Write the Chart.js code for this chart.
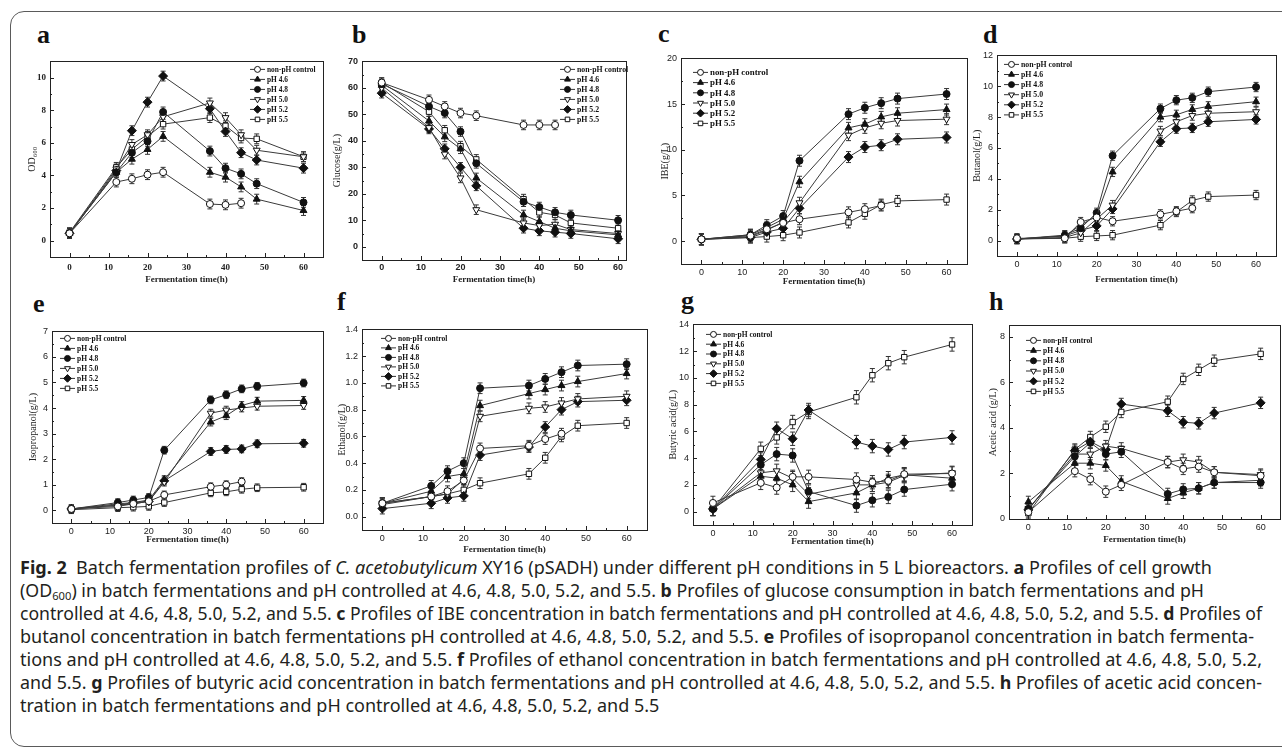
<!DOCTYPE html>
<html>
<head>
<meta charset="utf-8">
<script src="https://cdn.jsdelivr.net/npm/chart.js@4.4.0/dist/chart.umd.min.js"></script>
<style>
body { margin: 0; background: #fff; }
#fig { position: relative; width: 1282px; height: 753px; overflow: hidden; background: #fff; }
#frame { position: absolute; left: 10px; top: 11px; width: 1300px; height: 736px; border: 1.5px solid #5a5a5a; border-radius: 14px; box-sizing: border-box; }
canvas { position: absolute; }
.lbl { position: absolute; font: bold 26px "Liberation Serif", serif; line-height: 26px; color: #111; }
#caption { position: absolute; left: 20px; top: 556px; font-family: "Noto Sans", sans-serif; font-size: 17.5px; color: #231f20; }
#caption div { white-space: nowrap; height: 23px; line-height: 23px; }
#caption span.ln { display: inline-block; transform-origin: 0 50%; }
</style>
</head>
<body>
<div id="fig">
  <div id="frame"></div>
  <div class="lbl" style="left:37px;top:22px">a</div>
  <div class="lbl" style="left:352px;top:22px">b</div>
  <div class="lbl" style="left:658px;top:21px">c</div>
  <div class="lbl" style="left:983px;top:22px">d</div>
  <div class="lbl" style="left:33px;top:291px">e</div>
  <div class="lbl" style="left:337px;top:289px">f</div>
  <div class="lbl" style="left:681px;top:288px">g</div>
  <div class="lbl" style="left:989px;top:289px">h</div>
  <div id="caption">
    <div><span class="ln" data-w="1192"><b>Fig. 2</b>&nbsp; Batch fermentation profiles of <i>C. acetobutylicum</i> XY16 (pSADH) under different pH conditions in 5 L bioreactors. <b>a</b> Profiles of cell growth</span></div>
    <div><span class="ln" data-w="1184">(OD<sub style="font-size:11px;vertical-align:-3px">600</sub>) in batch fermentations and pH controlled at 4.6, 4.8, 5.0, 5.2, and 5.5. <b>b</b> Profiles of glucose consumption in batch fermentations and pH</span></div>
    <div><span class="ln" data-w="1242">controlled at 4.6, 4.8, 5.0, 5.2, and 5.5. <b>c</b> Profiles of IBE concentration in batch fermentations and pH controlled at 4.6, 4.8, 5.0, 5.2, and 5.5. <b>d</b> Profiles of</span></div>
    <div><span class="ln" data-w="1234">butanol concentration in batch fermentations pH controlled at 4.6, 4.8, 5.0, 5.2, and 5.5. <b>e</b> Profiles of isopropanol concentration in batch fermenta-</span></div>
    <div><span class="ln" data-w="1242">tions and pH controlled at 4.6, 4.8, 5.0, 5.2, and 5.5. <b>f</b> Profiles of ethanol concentration in batch fermentations and pH controlled at 4.6, 4.8, 5.0, 5.2,</span></div>
    <div><span class="ln" data-w="1242">and 5.5. <b>g</b> Profiles of butyric acid concentration in batch fermentations and pH controlled at 4.6, 4.8, 5.0, 5.2, and 5.5. <b>h</b> Profiles of acetic acid concen-</span></div>
    <div><span class="ln">tration in batch fermentations and pH controlled at 4.6, 4.8, 5.0, 5.2, and 5.5</span></div>
  </div>
</div>
<script>
// sampling times (h), same for every panel
const times = [0, 12, 16, 20, 24, 36, 40, 44, 48, 60];
const seriesNames = ['non-pH control', 'pH 4.6', 'pH 4.8', 'pH 5.0', 'pH 5.2', 'pH 5.5'];
const xTicks = [0, 10, 20, 30, 40, 50, 60];

// a - OD600
const odCtrl = [0.45, 3.6, 3.8, 4.05, 4.2, 2.25, 2.2, 2.3];
const od46 = [0.45, 4.2, 5.0, 5.6, 6.4, 4.2, 3.9, 3.3, 2.55, 1.85];
const od48 = [0.45, 4.2, 5.4, 6.1, 7.9, 5.5, 4.45, 4.1, 3.5, 2.35];
const od50 = [0.45, 4.4, 5.9, 6.5, 7.6, 8.45, 7.55, 6.5, 5.55, 5.15];
const od52 = [0.45, 4.3, 6.75, 8.5, 10.1, 8.1, 6.7, 5.4, 4.95, 4.45];
const od55 = [0.5, 4.5, 5.6, 6.4, 7.15, 7.55, 7.05, 6.3, 6.25, 5.15];
const odTicks = [0, 2, 4, 6, 8, 10];

// b - glucose
const gluCtrl = [62, 55.5, 53, 50.5, 49.5, 46, 46, 46];
const glu46 = [61, 47.5, 41.5, 37, 26, 12, 9.5, 7, 6, 4.5];
const glu48 = [61.5, 53, 50.5, 43.5, 31.5, 17, 15, 13, 12, 10];
const glu50 = [60, 45, 35, 26, 14, 9, 8, 8.5, 6.5, 5];
const glu52 = [58, 44.5, 37, 30, 23, 7, 6, 5.5, 5, 3];
const glu55 = [62, 51, 44, 38, 33, 18, 13, 12, 9, 7];
const gluTicks = [0, 10, 20, 30, 40, 50, 60, 70];

// c - IBE
const ibeCtrl = [0.2, 0.6, 1.3, 2.0, 2.4, 3.15, 3.5, 3.9];
const ibe46 = [0.2, 0.7, 1.5, 2.4, 6.5, 12.4, 12.8, 13.6, 14.0, 14.4];
const ibe48 = [0.2, 0.7, 1.75, 2.75, 8.8, 13.9, 14.6, 15.1, 15.6, 16.1];
const ibe50 = [0.2, 0.5, 1.2, 2.1, 4.2, 11.6, 12.4, 12.9, 13.2, 13.35];
const ibe52 = [0.2, 0.4, 1.0, 1.4, 3.6, 9.2, 10.3, 10.5, 11.15, 11.35];
const ibe55 = [0.2, 0.4, 0.5, 0.65, 0.95, 2.05, 3.0, 4.0, 4.4, 4.55];
const ibeTicks = [0, 5, 10, 15, 20];

// d - butanol
const butCtrl = [0.15, 0.15, 1.2, 1.5, 1.25, 1.7, 1.9, 2.1];
const but46 = [0.1, 0.3, 1.0, 1.6, 4.45, 8.0, 8.15, 8.5, 8.7, 9.0];
const but48 = [0.1, 0.35, 0.8, 1.8, 5.5, 8.55, 9.1, 9.25, 9.65, 9.95];
const but50 = [0.1, 0.2, 0.5, 1.4, 2.3, 7.1, 7.7, 8.1, 8.25, 8.35];
const but52 = [0.1, 0.3, 0.65, 0.95, 2.05, 6.4, 7.25, 7.3, 7.7, 7.85];
const but55 = [0.1, 0.15, 0.25, 0.3, 0.35, 1.0, 1.85, 2.6, 2.85, 2.95];
const butTicks = [0, 2, 4, 6, 8, 10, 12];

// e - isopropanol
const isoCtrl = [0.05, 0.15, 0.25, 0.35, 0.6, 0.92, 1.0, 1.12];
const iso46 = [0.05, 0.25, 0.3, 0.4, 1.2, 3.45, 3.7, 4.1, 4.27, 4.3];
const iso48 = [0.05, 0.3, 0.4, 0.5, 2.35, 4.32, 4.52, 4.75, 4.85, 4.98];
const iso50 = [0.05, 0.2, 0.25, 0.35, 1.1, 3.8, 3.92, 4.0, 4.07, 4.1];
const iso52 = [0.05, 0.2, 0.3, 0.35, 1.15, 2.3, 2.38, 2.4, 2.6, 2.62];
const iso55 = [0.02, 0.1, 0.12, 0.15, 0.3, 0.68, 0.72, 0.82, 0.88, 0.9];
const isoTicks = [0, 1, 2, 3, 4, 5, 6, 7];

// f - ethanol
const ethCtrl = [0.1, 0.15, 0.19, 0.27, 0.51, 0.53, 0.58, 0.62];
const eth46 = [0.1, 0.19, 0.3, 0.32, 0.83, 0.92, 0.95, 0.98, 1.01, 1.07];
const eth48 = [0.1, 0.23, 0.34, 0.4, 0.96, 0.98, 1.03, 1.08, 1.13, 1.14];
const eth50 = [0.1, 0.15, 0.17, 0.28, 0.75, 0.81, 0.82, 0.85, 0.88, 0.9];
const eth52 = [0.06, 0.1, 0.14, 0.155, 0.46, 0.52, 0.67, 0.8, 0.86, 0.87];
const eth55 = [0.09, 0.15, 0.17, 0.2, 0.25, 0.32, 0.44, 0.6, 0.68, 0.7];
const ethTicks = [0, 0.2, 0.4, 0.6, 0.8, 1.0, 1.2, 1.4];

// g - butyric acid
const butyCtrl = [0.65, 2.15, 1.8, 2.6, 2.6, 2.4, 2.2, 2.3, 2.8, 2.85];
const buty46 = [0.2, 2.65, 2.5, 2.0, 0.75, 1.4, 2.0, 2.5, 2.75, 2.5];
const buty48 = [0.2, 3.5, 4.3, 4.2, 1.5, 0.45, 0.85, 1.1, 1.65, 2.05];
const buty50 = [0.2, 2.9, 3.05, 2.5, 1.3, 2.0, 2.0, 2.2, 2.7, 2.9];
const buty52 = [0.2, 3.9, 6.2, 5.45, 7.6, 5.2, 4.9, 4.65, 5.2, 5.55];
const buty55 = [0.2, 4.7, 5.55, 6.7, 7.45, 8.55, 10.2, 11.1, 11.55, 12.5];
const butyTicks = [0, 2, 4, 6, 8, 10, 12, 14];

// h - acetic acid
const aceCtrl = [0.3, 2.1, 1.75, 1.2, 1.5, 2.5, 2.2, 2.3, 2.05, 1.9];
const ace46 = [0.75, 2.45, 2.45, 2.35, 1.65, 0.9, 1.15, 1.35, 1.6, 1.7];
const ace48 = [0.45, 2.75, 3.35, 2.85, 2.95, 1.1, 1.3, 1.35, 1.6, 1.6];
const ace50 = [0.45, 2.85, 2.85, 3.2, 3.1, 2.5, 2.6, 2.5, 2.05, 1.95];
const ace52 = [0.4, 3.0, 3.4, 3.05, 5.05, 4.75, 4.25, 4.2, 4.65, 5.1];
const ace55 = [0.25, 3.05, 3.6, 4.05, 4.7, 5.15, 6.15, 6.55, 6.95, 7.25];
const aceTicks = [0, 2, 4, 6, 8];

const markers = [
  { style: 'circle', rot: 0, r: 3.5, fill: '#fff' },
  { style: 'triangle', rot: 0, r: 4, fill: '#111' },
  { style: 'circle', rot: 0, r: 3.5, fill: '#111' },
  { style: 'triangle', rot: 180, r: 4, fill: '#fff' },
  { style: 'rectRot', rot: 0, r: 4.5, fill: '#111' },
  { style: 'rect', rot: 0, r: 3.8, fill: '#fff' }
];

const serif = 'Liberation Serif';
const sans = 'Liberation Sans';

// L,T,R,B = plot frame on the page, W/H = y/x axis box sizes
const panels = [
  { id: 'a', sets: [odCtrl, od46, od48, od50, od52, od55], yTitle: 'OD\u2086\u2080\u2080', yTicks: odTicks, yMin: -1, yMax: 11, yMinor: 1, err: 0.3,
    L: 50, T: 58, R: 323, B: 257, W: 24, H: 28, xPad: 5, xMax: 65, tickFont: { family: serif, size: 9, weight: 'bold' }, leg: [200, 8], legGap: 10, legFont: 7.4 },
  { id: 'b', sets: [gluCtrl, glu46, glu48, glu50, glu52, glu55], yTitle: 'Glucose(g/L)', yTicks: gluTicks, yMin: -5, yMax: 70, yMinor: 5, err: 1.8,
    L: 362, T: 58, R: 626, B: 260, W: 31, H: 25, xPad: 2, xMax: 62, tickFont: { family: sans, size: 9, weight: 'bold' }, leg: [198, 8], legGap: 10, legFont: 7.8 },
  { id: 'c', sets: [ibeCtrl, ibe46, ibe48, ibe50, ibe52, ibe55], yTitle: 'IBE(g/L)', yTicks: ibeTicks, yMin: -2.5, yMax: 20, yMinor: 2.5, err: 0.6,
    L: 681, T: 55, R: 967, B: 264, W: 22, H: 23, xPad: 3, xMax: 65, tickFont: { family: sans, size: 9 }, leg: [12, 14], legGap: 10.2, legFont: 8.9 },
  { id: 'd', sets: [butCtrl, but46, but48, but50, but52, but55], yTitle: 'Butanol(g/L)', yTicks: butTicks, yMin: -1, yMax: 12, yMinor: 1, err: 0.3,
    L: 997, T: 52, R: 1276, B: 256, W: 26, H: 29, xPad: 3, xMax: 65, tickFont: { family: sans, size: 9 }, leg: [7, 9], legGap: 10.1, legFont: 7.8 },
  { id: 'e', sets: [isoCtrl, iso46, iso48, iso50, iso52, iso55], yTitle: 'Isopropanol(g/L)', yTicks: isoTicks, yMin: -0.5, yMax: 7, yMinor: 0.5, err: 0.15,
    L: 52, T: 328, R: 323, B: 523, W: 25, H: 22, xPad: 3, xMax: 65, tickFont: { family: sans, size: 9 }, leg: [8, 7], legGap: 10, legFont: 7.5 },
  { id: 'f', sets: [ethCtrl, eth46, eth48, eth50, eth52, eth55], yTitle: 'Ethanol(g/L)', yTicks: ethTicks, yMin: -0.1, yMax: 1.4, yMinor: 0.1, err: 0.04, dec: 1,
    L: 362, T: 326, R: 647, B: 530, W: 26, H: 25, xPad: 3, xMax: 65, tickFont: { family: sans, size: 9 }, leg: [19, 9], legGap: 9.5, legFont: 7.5 },
  { id: 'g', sets: [butyCtrl, buty46, buty48, buty50, buty52, buty55], yTitle: 'Butyric acid(g/L)', yTicks: butyTicks, yMin: -1, yMax: 14, yMinor: 1, err: 0.5,
    L: 693, T: 321, R: 972, B: 525, W: 26, H: 22, xPad: 3, xMax: 65, tickFont: { family: sans, size: 9 }, leg: [13, 10], legGap: 9.8, legFont: 7.5 },
  { id: 'h', sets: [aceCtrl, ace46, ace48, ace50, ace52, ace55], yTitle: 'Acetic acid (g/L)', yTicks: aceTicks, yMin: 0, yMax: 8.5, yMinor: 1, err: 0.25,
    L: 1009, T: 322, R: 1280, B: 519, W: 22, H: 26, xPad: 3, xMax: 65, tickFont: { family: sans, size: 9 }, leg: [17, 15], legGap: 10.2, legFont: 7.5 }
];

// error bars, drawn under the markers
const errorBars = {
  id: 'errorBars',
  beforeDatasetsDraw(chart, args, opts) {
    const ctx = chart.ctx;
    const ys = chart.scales.y;
    ctx.save();
    ctx.strokeStyle = '#333';
    ctx.lineWidth = 1;
    chart.data.datasets.forEach((ds, i) => {
      chart.getDatasetMeta(i).data.forEach((pt, j) => {
        const v = ds.data[j].y;
        const y1 = ys.getPixelForValue(v + opts.err);
        const y2 = ys.getPixelForValue(v - opts.err);
        ctx.beginPath();
        ctx.moveTo(pt.x, y1); ctx.lineTo(pt.x, y2);
        ctx.moveTo(pt.x - 2.5, y1); ctx.lineTo(pt.x + 2.5, y1);
        ctx.moveTo(pt.x - 2.5, y2); ctx.lineTo(pt.x + 2.5, y2);
        ctx.stroke();
      });
    });
    ctx.restore();
  }
};

// box frame + inward ticks
const frameTicks = {
  id: 'frameTicks',
  afterDraw(chart, args, opts) {
    const ctx = chart.ctx;
    const a = chart.chartArea;
    const xs = chart.scales.x, ys = chart.scales.y;
    ctx.save();
    ctx.strokeStyle = '#222';
    ctx.lineWidth = 1;
    ctx.strokeRect(Math.round(a.left) + 0.5, Math.round(a.top) + 0.5, Math.round(a.right - a.left), Math.round(a.bottom - a.top));
    ctx.beginPath();
    for (let v = 0; v <= 60; v += 5) {
      const px = Math.round(xs.getPixelForValue(v)) + 0.5;
      const len = v % 10 === 0 ? 4 : 2;
      ctx.moveTo(px, a.bottom); ctx.lineTo(px, a.bottom - len);
    }
    const n = Math.round((ys.max - ys.min) / opts.minor);
    for (let k = 0; k <= n; k++) {
      const v = Math.ceil(ys.min / opts.minor) * opts.minor + k * opts.minor;
      if (v > ys.max + 1e-9) break;
      const py = Math.round(ys.getPixelForValue(v)) + 0.5;
      const major = opts.ticks.some(t => Math.abs(t - v) < 1e-6);
      ctx.moveTo(a.left, py); ctx.lineTo(a.left + (major ? 4 : 2), py);
    }
    ctx.stroke();
    ctx.restore();
  }
};

// legend inside the plot: line sample with marker, then label
const inLegend = {
  id: 'inLegend',
  afterDraw(chart, args, opts) {
    const ctx = chart.ctx;
    const a = chart.chartArea;
    const x0 = a.left + opts.x, y0 = a.top + opts.y;
    ctx.save();
    ctx.font = 'bold ' + opts.size + 'px "' + serif + '"';
    ctx.textBaseline = 'middle';
    chart.data.datasets.forEach((ds, i) => {
      const y = y0 + i * opts.gap;
      ctx.strokeStyle = '#333';
      ctx.lineWidth = 1;
      ctx.beginPath();
      ctx.moveTo(x0, y); ctx.lineTo(x0 + 15, y);
      ctx.stroke();
      ctx.fillStyle = ds.pointBackgroundColor;
      ctx.strokeStyle = '#111';
      Chart.helpers.drawPoint(ctx, { pointStyle: ds.pointStyle, rotation: ds.pointRotation, radius: ds.pointRadius * 0.85, borderWidth: 1 }, x0 + 7.5, y);
      ctx.fillStyle = '#111';
      ctx.fillText(ds.label, x0 + 17, y + 0.5);
    });
    ctx.restore();
  }
};

function makeSets(list) {
  return list.map((vals, i) => ({
    label: seriesNames[i],
    data: vals.map((v, j) => ({ x: times[j], y: v })),
    borderColor: '#3a3a3a',
    borderWidth: 1,
    pointStyle: markers[i].style,
    pointRotation: markers[i].rot,
    pointRadius: markers[i].r,
    pointBackgroundColor: markers[i].fill,
    pointBorderColor: '#111',
    pointBorderWidth: 1,
    tension: 0,
    fill: false
  }));
}

function makePanel(p) {
  const cv = document.createElement('canvas');
  const w = p.R - p.L + p.W + 2;
  const h = p.B - p.T + 6 + p.H;
  cv.width = w; cv.height = h;
  cv.style.left = (p.L - p.W) + 'px';
  cv.style.top = (p.T - 6) + 'px';
  cv.style.width = w + 'px';
  cv.style.height = h + 'px';
  document.getElementById('fig').appendChild(cv);

  new Chart(cv, {
    type: 'line',
    data: { datasets: makeSets(p.sets) },
    plugins: [errorBars, frameTicks, inLegend],
    options: {
      responsive: false,
      animation: false,
      devicePixelRatio: 1,
      layout: { padding: { top: 6, right: 2, left: 0, bottom: 0 }, autoPadding: false },
      plugins: {
        legend: { display: false },
        tooltip: { enabled: false },
        errorBars: { err: p.err },
        frameTicks: { minor: p.yMinor, ticks: p.yTicks },
        inLegend: { x: p.leg[0], y: p.leg[1], gap: p.legGap, size: p.legFont }
      },
      scales: {
        x: {
          type: 'linear', min: -5, max: p.xMax,
          grid: { display: false, drawTicks: false },
          border: { display: false },
          afterBuildTicks: s => { s.ticks = xTicks.map(v => ({ value: v })); },
          afterFit: s => { s.height = p.H; },
          ticks: { padding: p.xPad, font: p.tickFont, color: '#222', maxRotation: 0, autoSkip: false },
          title: { display: true, text: 'Fermentation time(h)', color: '#222', padding: 0,
                   font: { family: serif, size: 9, weight: 'bold' } }
        },
        y: {
          min: p.yMin, max: p.yMax,
          grid: { display: false, drawTicks: false },
          border: { display: false },
          afterBuildTicks: s => { s.ticks = p.yTicks.map(v => ({ value: v })); },
          afterFit: s => { s.width = p.W; },
          ticks: { padding: 4, font: p.tickFont, color: '#222',
                   callback: v => p.dec ? v.toFixed(p.dec) : v },
          title: { display: true, text: p.yTitle, color: '#222', padding: 0,
                   font: { family: serif, size: 10 } }
        }
      }
    }
  });
}

// squeeze caption lines to the widths of the printed lines
function fitCaption() {
  const lines = document.querySelectorAll('#caption span.ln');
  let k0 = 1;
  lines.forEach((sp, i) => {
    const wNat = sp.getBoundingClientRect().width;
    const k = sp.dataset.w ? +sp.dataset.w / wNat : k0;
    if (i === 0) k0 = k;
    sp.style.transform = 'scaleX(' + k + ')';
  });
}

document.fonts.ready.then(() => {
  panels.forEach(makePanel);
  fitCaption();
});
</script>
</body>
</html>
